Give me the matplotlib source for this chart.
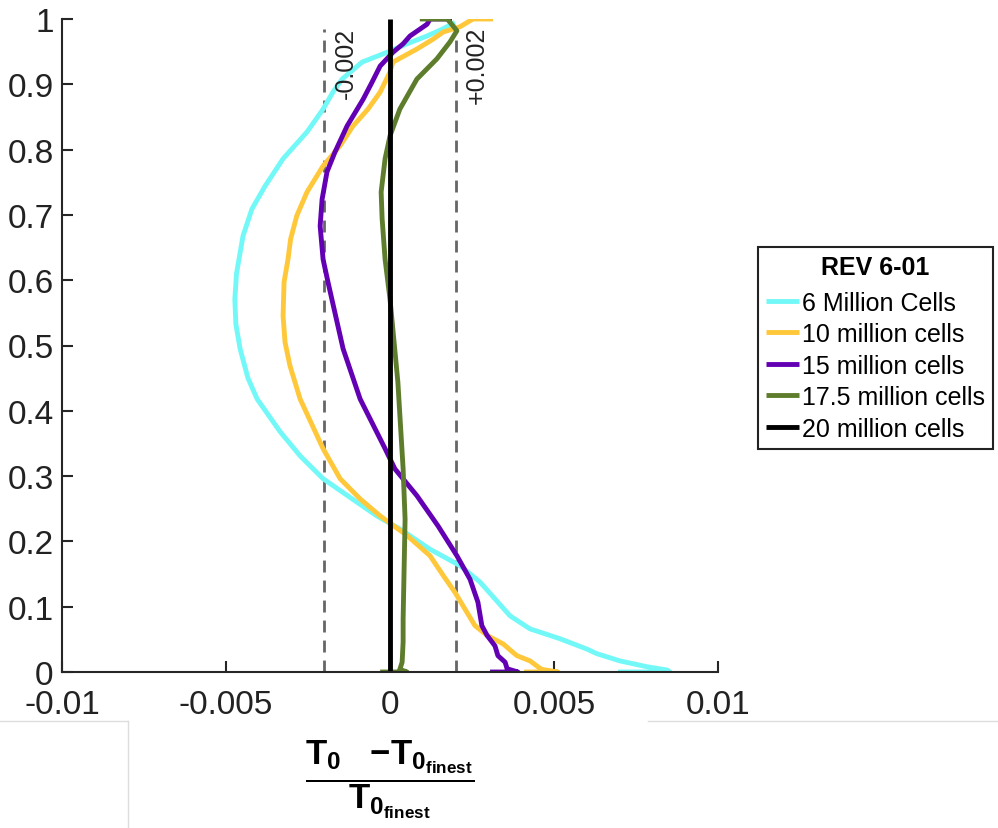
import matplotlib
matplotlib.use("Agg")
import matplotlib.pyplot as plt
from matplotlib.lines import Line2D

plt.rcParams['font.family'] = ['Liberation Sans', 'DejaVu Sans']
plt.rcParams['mathtext.fontset'] = 'custom'
plt.rcParams['mathtext.bf'] = 'Liberation Sans:bold'
plt.rcParams['mathtext.rm'] = 'Liberation Sans'
plt.rcParams['mathtext.it'] = 'Liberation Sans:italic'

# ---------------- data ----------------
labels = ["6 Million Cells", "10 million cells", "15 million cells",
          "17.5 million cells", "20 million cells"]
colors = ["#73F8F8", "#FFC83A", "#6400B4", "#5E7D2C", "#000000"]

y_6m = [0, 0, 0.003, 0.008, 0.017, 0.028, 0.035, 0.051, 0.066, 0.086, 0.112, 0.138,
        0.163, 0.188, 0.219, 0.239, 0.296, 0.331, 0.368, 0.418, 0.45, 0.495, 0.533,
        0.571, 0.61, 0.648, 0.668, 0.709, 0.744, 0.786, 0.827, 0.862, 0.888, 0.908,
        0.934, 0.949, 0.962, 0.974, 0.985, 0.995]
x_6m = [0.00695, 0.00854, 0.00845, 0.00784, 0.00701, 0.00631, 0.00601, 0.00518,
        0.00427, 0.00366, 0.00320, 0.00274, 0.00213, 0.00122, 0.00030, -0.00040,
        -0.00204, -0.00274, -0.00335, -0.00405, -0.00433, -0.00457, -0.00470,
        -0.00473, -0.00468, -0.00455, -0.00448, -0.00421, -0.00381, -0.00326,
        -0.00253, -0.00204, -0.00174, -0.00146, -0.00085, -0.00009, 0.00052,
        0.00113, 0.00162, 0.00198]

y_10m = [0, 0, 0.004, 0.008, 0.017, 0.025, 0.030, 0.043, 0.056, 0.071, 0.096, 0.122,
         0.148, 0.178, 0.209, 0.239, 0.265, 0.296, 0.342, 0.418, 0.469, 0.505, 0.545,
         0.597, 0.632, 0.663, 0.699, 0.735, 0.775, 0.806, 0.836, 0.862, 0.888, 0.919,
         0.934, 0.954, 0.969, 0.98, 0.988, 1, 1]
x_10m = [0.00409, 0.00512, 0.00463, 0.00451, 0.00427, 0.00387, 0.00375, 0.00345,
         0.00296, 0.00259, 0.00229, 0.00198, 0.00162, 0.00122, 0.00052, -0.00030,
         -0.00091, -0.00152, -0.00204, -0.00274, -0.00305, -0.00320, -0.00326,
         -0.00323, -0.00311, -0.00303, -0.00284, -0.00253, -0.00204, -0.00152,
         -0.00113, -0.00067, -0.00030, 0.0, 0.00009, 0.00082, 0.00131, 0.00162,
         0.00213, 0.00253, 0.00314]

y_15m = [0, 0, 0.005, 0.015, 0.025, 0.040, 0.056, 0.071, 0.107, 0.142, 0.178, 0.224,
         0.27, 0.311, 0.342, 0.418, 0.495, 0.597, 0.632, 0.683, 0.724, 0.766, 0.796,
         0.836, 0.877, 0.903, 0.928, 0.949, 0.962, 0.974, 0.992, 1, 1]
x_15m = [0.00305, 0.00390, 0.00357, 0.00351, 0.00329, 0.00320, 0.00296, 0.00280,
         0.00268, 0.00244, 0.00204, 0.00146, 0.00082, 0.00015, -0.00015, -0.00091,
         -0.00143, -0.00189, -0.00204, -0.00213, -0.00207, -0.00192, -0.00168,
         -0.00131, -0.00082, -0.00055, -0.00030, 0.00009, 0.00040, 0.00061, 0.00113,
         0.00122, 0.00189]

y_17m = [0, 0, 0.004, 0.015, 0.046, 0.081, 0.158, 0.234, 0.311, 0.444, 0.571, 0.632,
         0.694, 0.735, 0.786, 0.821, 0.862, 0.908, 0.939, 0.965, 0.982, 0.995, 1, 1]
x_17m = [-0.00030, 0.00052, 0.00030, 0.00037, 0.00040, 0.00040, 0.00043, 0.00046,
         0.00040, 0.00024, 0.0, -0.00015, -0.00024, -0.00027, -0.00015, 0.0,
         0.00030, 0.00082, 0.00143, 0.00183, 0.00204, 0.00183, 0.00174, 0.00091]

y_20m = [0, 1]
x_20m = [0.0, 0.0]

band = [-0.002, 0.002]
band_labels = ["-0.002", "+0.002"]
band_top = 0.985

xticks = [-0.01, -0.005, 0, 0.005, 0.01]
xtick_labels = ["-0.01", "-0.005", "0", "0.005", "0.01"]
yticks = [0, 0.1, 0.2, 0.3, 0.4, 0.5, 0.6, 0.7, 0.8, 0.9, 1]
ytick_labels = ["0", "0.1", "0.2", "0.3", "0.4", "0.5", "0.6", "0.7", "0.8", "0.9", "1"]

series = [(x_6m, y_6m), (x_10m, y_10m), (x_15m, y_15m), (x_17m, y_17m), (x_20m, y_20m)]

# ---------------- figure ----------------
fig = plt.figure(figsize=(9.98, 8.29), dpi=100)
ax = fig.add_axes([62 / 998, 1 - 673 / 829, (718 - 62) / 998, (673 - 20) / 829])

for xb in band:
    ax.plot([xb, xb], [0, band_top], color="#666666", lw=2,
            linestyle=(0, (4.3, 2.9)), zorder=1)

handles = []
for (xs, ys), c, lab in zip(series, colors, labels):
    h, = ax.plot(xs, ys, color=c, lw=3.5, label=lab, zorder=2,
                 solid_capstyle='butt', solid_joinstyle='round')
    handles.append(h)

ax.text(-0.00134, 0.934, band_labels[0], rotation=90, ha="center", va="center",
        fontsize=18, color="#222222")
ax.text(0.00265, 0.93, band_labels[1], rotation=90, ha="center", va="center",
        fontsize=18, color="#222222")

ax.set_xlim(-0.01, 0.01)
ax.set_ylim(0, 1)
ax.set_xticks(xticks)
ax.set_xticklabels(xtick_labels)
ax.set_yticks(yticks)
ax.set_yticklabels(ytick_labels)
for s in ["top", "right"]:
    ax.spines[s].set_visible(False)
for s in ["left", "bottom"]:
    ax.spines[s].set_color("#262626")
    ax.spines[s].set_linewidth(1.5)
ax.tick_params(axis="both", direction="in", length=8, width=1.5, colors="#262626",
               labelsize=24, labelcolor="#222222")
ax.tick_params(axis="x", pad=12)
ax.tick_params(axis="y", pad=6)

# x label (fraction)
fig.text(390 / 998, 1 - 780 / 829,
         r"$\dfrac{\mathbf{T}_{\mathbf{0}}\quad\mathbf{-T}_{\mathbf{0}_{\mathbf{finest}}}}{\mathbf{T}_{\mathbf{0}_{\mathbf{finest}}}}$",
         ha="center", va="center", fontsize=25)

# legend
x0, x1 = 758 / 998, 993 / 998
ytop, ybot = 1 - 248 / 829, 1 - 445 / 829
leg = fig.legend(handles=handles, loc="upper left",
                 bbox_to_anchor=(x0, ybot, x1 - x0, ytop - ybot), mode="expand",
                 bbox_transform=fig.transFigure, title="REV 6-01",
                 title_fontproperties={"weight": "bold", "size": 18},
                 fontsize=18, frameon=True, fancybox=False, edgecolor="#222222",
                 framealpha=1, borderpad=0.32, handlelength=1.3, handletextpad=0.15,
                 labelspacing=0.3, borderaxespad=0)
leg._legend_box.sep = 8.3
leg.get_frame().set_linewidth(1.5)
for lh in leg.legend_handles:
    lh.set_linewidth(3.5)
fig.add_artist(Line2D([x0, x1], [1 - 283 / 829, 1 - 283 / 829],
                      transform=fig.transFigure, color="#222222", lw=1.2))

# faint screenshot frame lines
fig.add_artist(Line2D([0, 128 / 998], [1 - 722 / 829, 1 - 722 / 829],
                      transform=fig.transFigure, color="#dddddd", lw=1))
fig.add_artist(Line2D([648 / 998, 1], [1 - 722 / 829, 1 - 722 / 829],
                      transform=fig.transFigure, color="#dddddd", lw=1))
fig.add_artist(Line2D([128 / 998, 128 / 998], [0, 1 - 722 / 829],
                      transform=fig.transFigure, color="#dddddd", lw=1))

fig.savefig("out.png", dpi=100)
